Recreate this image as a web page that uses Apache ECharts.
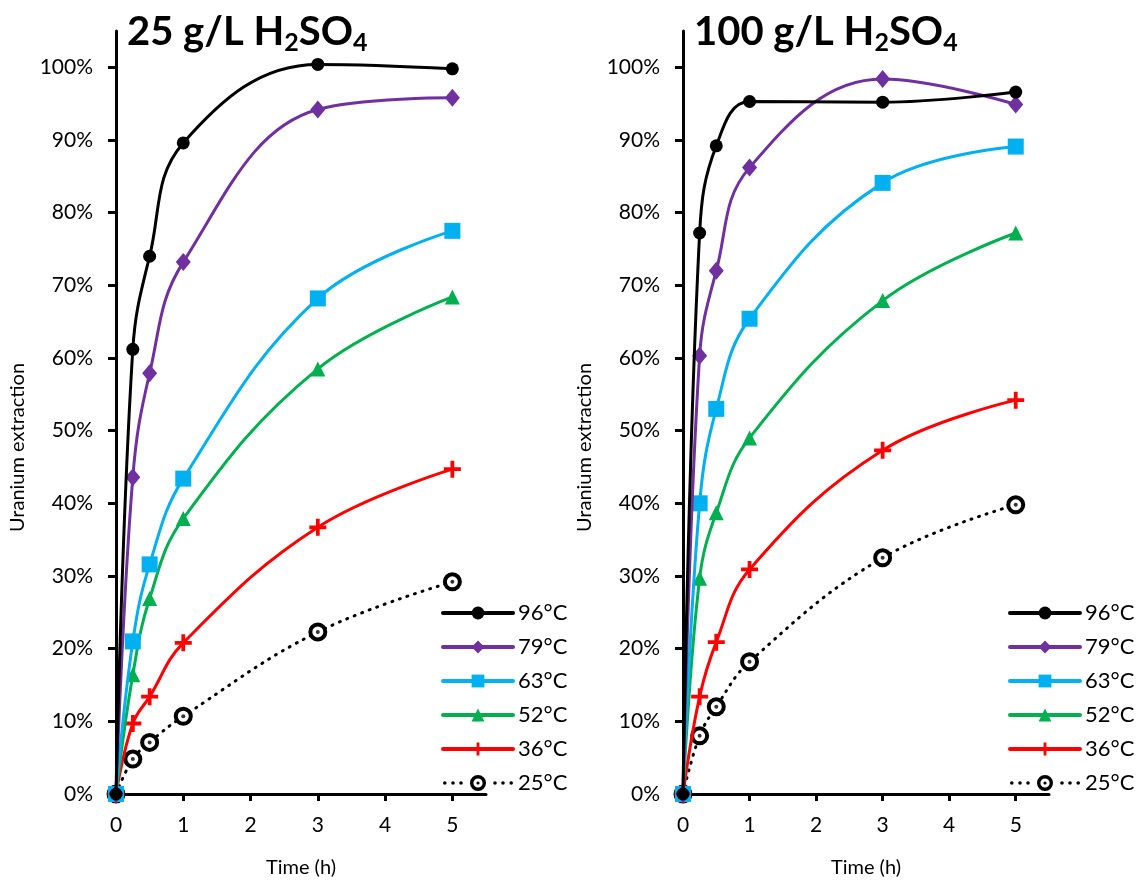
<!DOCTYPE html>
<html>
<head>
<meta charset="utf-8">
<script src="https://cdn.jsdelivr.net/npm/echarts@6/dist/echarts.min.js"></script>
<style>
  html, body { margin: 0; padding: 0; background: #fff; }
  #chart { width: 1136px; height: 883px; }
</style>
</head>
<body>
<div id="chart"></div>
<script>
// time points (h)
var times = [0, 0.25, 0.5, 1, 3, 5];
var temps = ["96°C", "79°C", "63°C", "52°C", "36°C", "25°C"];
var xTicks = [0, 1, 2, 3, 4, 5];
var yTicks = [0, 0.1, 0.2, 0.3, 0.4, 0.5, 0.6, 0.7, 0.8, 0.9, 1.0];

// 25 g/L H2SO4
var left96 = [0, 0.612, 0.74, 0.896, 1.004, 0.998];
var left79 = [0, 0.436, 0.579, 0.732, 0.942, 0.958];
var left63 = [0, 0.21, 0.316, 0.434, 0.682, 0.775];
var left52 = [0, 0.164, 0.269, 0.379, 0.585, 0.684];
var left36 = [0, 0.097, 0.134, 0.208, 0.367, 0.447];
var left25 = [0, 0.048, 0.071, 0.107, 0.223, 0.292];

// 100 g/L H2SO4
var right96 = [0, 0.772, 0.892, 0.953, 0.952, 0.966];
var right79 = [0, 0.603, 0.72, 0.862, 0.984, 0.949];
var right63 = [0, 0.40, 0.53, 0.654, 0.841, 0.891];
var right52 = [0, 0.297, 0.387, 0.49, 0.679, 0.772];
var right36 = [0, 0.134, 0.209, 0.309, 0.473, 0.542];
var right25 = [0, 0.08, 0.12, 0.182, 0.325, 0.398];

var FONT = "Lato";
var crossPath = "path://M7,0H11V18H7Z M0,7H18V11H0Z";

// legend icon for the dotted 25°C entry: dots + ring with centre dot
function dot(cx, cy, r) {
  return "M" + cx + "," + (cy - r) + " A" + r + "," + r + " 0 1,1 " + cx + "," + (cy + r) +
    " A" + r + "," + r + " 0 1,1 " + cx + "," + (cy - r) + " Z ";
}
function hole(cx, cy, r) {
  return "M" + cx + "," + (cy - r) + " A" + r + "," + r + " 0 1,0 " + cx + "," + (cy + r) +
    " A" + r + "," + r + " 0 1,0 " + cx + "," + (cy - r) + " Z ";
}
var ringLegendIcon = "path://" + dot(1.8, 8, 1.8) + dot(10, 8, 1.8) + dot(18, 8, 1.8) +
  dot(35, 8, 8) + hole(35, 8, 4.6) + dot(35, 8, 1.6) +
  dot(52, 8, 1.8) + dot(60, 8, 1.8) + dot(68.2, 8, 1.8);

var styles = [
  { color: "#000000", symbol: "circle", size: 13, dash: "solid" },
  { color: "#7030A0", symbol: "diamond", size: [15, 18], dash: "solid" },
  { color: "#00B0F0", symbol: "rect", size: 16, dash: "solid" },
  { color: "#00B050", symbol: "triangle", size: 15, dash: "solid" },
  { color: "#FF0000", symbol: crossPath, size: 17, dash: "solid" },
  { color: "#000000", symbol: "circle", size: 15, dash: [1, 7], ring: true }
];

function pairs(vals) {
  return times.map(function (t, i) { return [t, vals[i]]; });
}

function makeSeries(sets, idx) {
  var out = sets.map(function (vals, i) {
    var s = styles[i];
    return {
      name: temps[i],
      type: "line",
      xAxisIndex: idx,
      yAxisIndex: idx,
      data: pairs(vals),
      smooth: 0.4,
      symbol: s.symbol,
      symbolSize: s.size,
      showAllSymbol: true,
      z: 10 - i,
      lineStyle: { color: s.color, width: 3, type: s.dash, cap: "round" },
      itemStyle: s.ring
        ? { color: "#ffffff", borderColor: s.color, borderWidth: 4 }
        : { color: s.color, borderWidth: 0 },
      emphasis: { disabled: true }
    };
  });
  // centre dot of the 25°C ring markers
  out.push({
    name: "25°C dot", type: "scatter", xAxisIndex: idx, yAxisIndex: idx,
    data: pairs(sets[5]), symbol: "circle", symbolSize: 4, z: 12,
    itemStyle: { color: "#000" }, emphasis: { disabled: true }, silent: true
  });
  return out;
}

function xAxisOpt(idx) {
  return {
    type: "value", gridIndex: idx, min: 0, max: 5.5,
    name: "Time (h)", nameLocation: "middle", nameGap: 64,
    nameTextStyle: { fontFamily: FONT, fontSize: 20, color: "#000" },
    axisLine: { lineStyle: { color: "#000", width: 3 } },
    axisTick: { show: true, length: 7, lineStyle: { color: "#000", width: 3 }, customValues: xTicks },
    axisLabel: { fontFamily: FONT, fontSize: 21, color: "#000", margin: 21, customValues: xTicks },
    splitLine: { show: false }
  };
}

function yAxisOpt(idx) {
  return {
    type: "value", gridIndex: idx, min: 0, max: 1.05,
    name: "Uranium extraction", nameLocation: "middle", nameGap: 88,
    nameTextStyle: { fontFamily: FONT, fontSize: 20, color: "#000", padding: [0, 70, 0, 0] },
    axisLine: { show: true, lineStyle: { color: "#000", width: 3 } },
    axisTick: { show: true, length: 8, lineStyle: { color: "#000", width: 3 }, customValues: yTicks },
    axisLabel: {
      fontFamily: FONT, fontSize: 21, color: "#000", margin: 23, customValues: yTicks,
      formatter: function (v) { return Math.round(v * 100) + "%"; }
    },
    splitLine: { show: false }
  };
}

function legendOpt(left) {
  var items = temps.map(function (t, i) {
    if (styles[i].ring) {
      return { name: t, icon: ringLegendIcon, itemStyle: { color: "#000", borderWidth: 0 } };
    }
    return { name: t };
  });
  return {
    data: items, orient: "vertical", left: left, top: 597,
    itemWidth: 70, itemHeight: 16, itemGap: 12,
    selectedMode: false,
    lineStyle: { width: 4 },
    textStyle: { fontFamily: FONT, fontSize: 22, color: "#000" }
  };
}

function titleRich() {
  return {
    b: { fontFamily: FONT, fontWeight: "bold", fontSize: 40, color: "#000" },
    sub: { fontFamily: FONT, fontWeight: "bold", fontSize: 25, color: "#000", verticalAlign: "bottom", padding: [20, 0, 0, 0] }
  };
}

var chart = echarts.init(document.getElementById("chart"));
chart.setOption({
  animation: false,
  backgroundColor: "#fff",
  title: [
    { text: "{b|25 g/L H}{sub|2}{b|SO}{sub|4}", left: 122, top: 5, textStyle: { rich: titleRich() } },
    { text: "{b|100 g/L H}{sub|2}{b|SO}{sub|4}", left: 689, top: 5, textStyle: { rich: titleRich() } }
  ],
  legend: [legendOpt(436), legendOpt(1003)],
  grid: [
    { left: 116, top: 31, width: 370, height: 766, containLabel: false },
    { left: 683, top: 31, width: 366, height: 766, containLabel: false }
  ],
  xAxis: [xAxisOpt(0), xAxisOpt(1)],
  yAxis: [yAxisOpt(0), yAxisOpt(1)],
  series: makeSeries([left96, left79, left63, left52, left36, left25], 0)
    .concat(makeSeries([right96, right79, right63, right52, right36, right25], 1))
});
</script>
</body>
</html>
